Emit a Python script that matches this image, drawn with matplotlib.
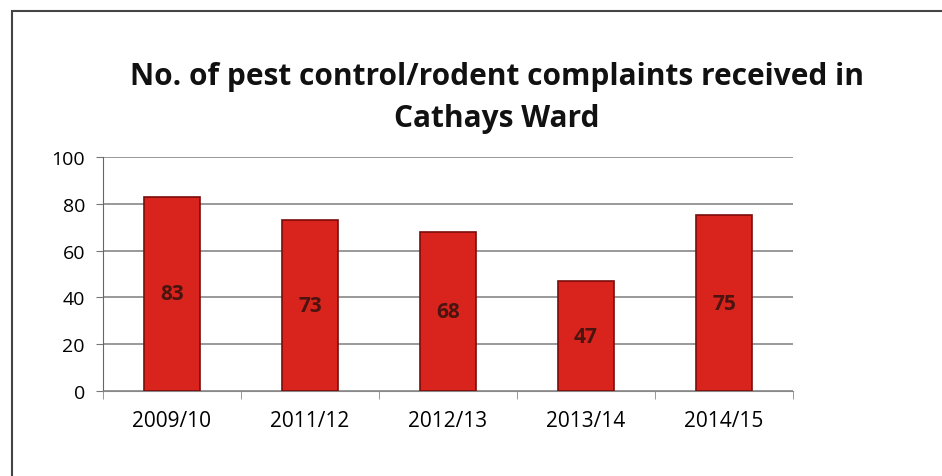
import matplotlib.pyplot as plt
import numpy as np
from matplotlib.patches import Rectangle

years = ['2009/10', '2011/12', '2012/13', '2013/14', '2014/15']
complaints = [83, 73, 68, 47, 75]
y_ticks = [0, 20, 40, 60, 80, 100]

plt.rcParams['font.family'] = ['Open Sans', 'DejaVu Sans']

fig = plt.figure(figsize=(9.42, 4.77), dpi=100)
ax = fig.add_axes([0.1093, 0.1782, 0.7325, 0.4906])

# outer frame like the scanned chart border
fig.patches.append(Rectangle((12 / 942, -0.1), 1.2, 1 - 12 / 477 + 0.1,
                             transform=fig.transFigure, fill=False,
                             edgecolor='#444444', linewidth=1.5))

x = np.arange(len(years))
bars = ax.bar(x, complaints, width=0.41, color='#d8241c',
              edgecolor='#7a0d0a', linewidth=1.2, zorder=3)
ax.bar_label(bars, labels=[str(v) for v in complaints], label_type='center',
             fontsize=15, fontweight='bold', color='#4a1410')

ax.set_ylim(0, 100)
ax.set_xlim(-0.5, len(years) - 0.5)
ax.set_yticks(y_ticks)
ax.tick_params(axis='y', labelsize=14, length=5, color='#777777', pad=8)
ax.yaxis.grid(True, color='#888888', linewidth=1.2, zorder=0)

ax.set_xticks(x)
ax.set_xticklabels(years, fontsize=15)
ax.set_xticks(np.arange(-0.5, len(years)), minor=True)
ax.tick_params(axis='x', which='major', length=0, pad=14)
ax.tick_params(axis='x', which='minor', length=6, color='#888888')

for side in ['top', 'right']:
    ax.spines[side].set_visible(False)
ax.spines['left'].set_color('#666666')
ax.spines['bottom'].set_color('#888888')

fig.text(0.5277, 0.795, 'No. of pest control/rodent complaints received in\nCathays Ward',
         ha='center', va='center', fontsize=21.5, fontweight='bold',
         linespacing=1.5, color='#111111')

fig.savefig('out.png', dpi=100)
